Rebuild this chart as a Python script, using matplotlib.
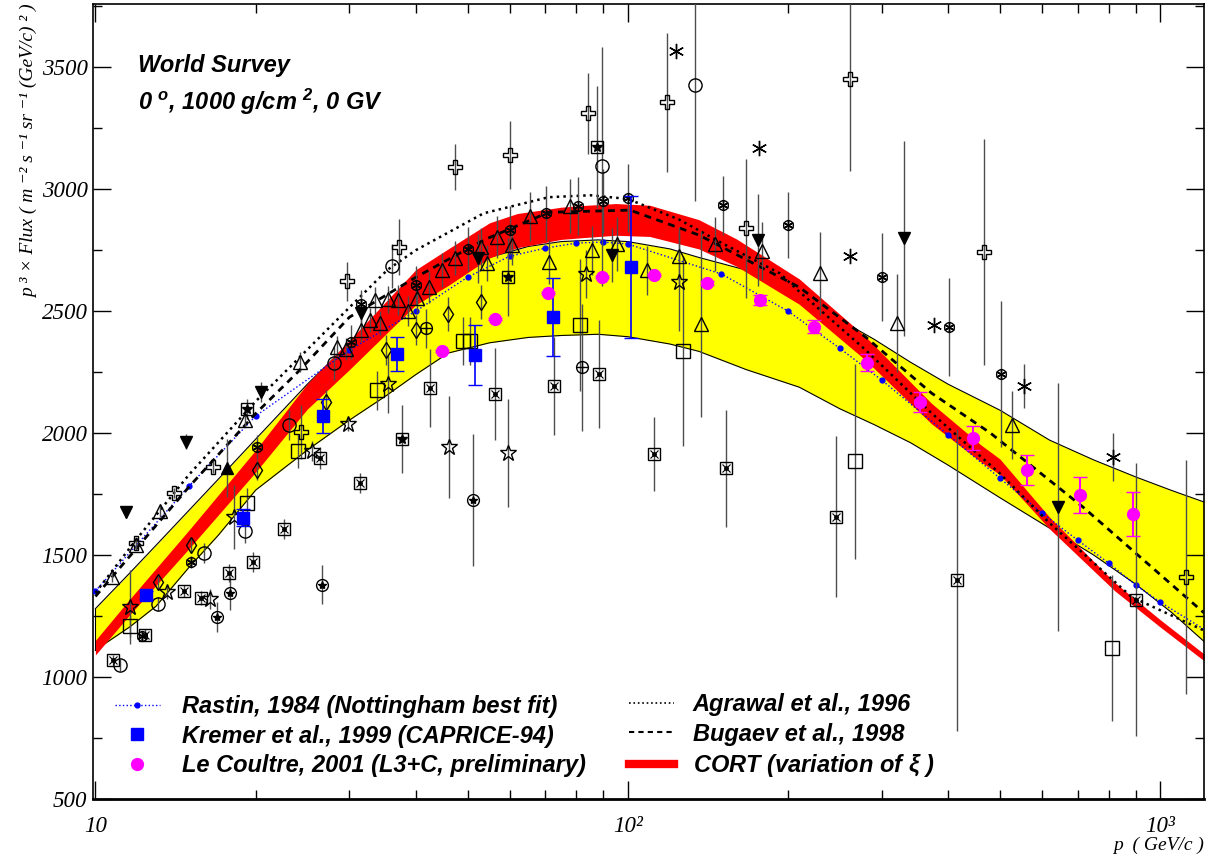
import matplotlib
matplotlib.use('Agg')
import matplotlib.pyplot as plt
from matplotlib.lines import Line2D
from matplotlib.ticker import MultipleLocator, LogLocator, NullFormatter, FixedLocator, FixedFormatter

# fuentes
plt.rcParams['mathtext.fontset'] = 'custom'
plt.rcParams['mathtext.rm'] = 'Liberation Sans:bold:italic'
plt.rcParams['mathtext.it'] = 'Liberation Sans:bold:italic'
plt.rcParams['mathtext.bf'] = 'Liberation Sans:bold:italic'
plt.rcParams['mathtext.default'] = 'it'
SANS = ['Liberation Sans', 'DejaVu Sans']
SERIF = ['Liberation Serif', 'DejaVu Serif']

# ---- bandas ----
band_p = [10, 11.6, 13, 15, 17, 20, 25, 30, 35, 40, 46, 55, 65, 75, 88, 100, 120, 136,
          167, 210, 250, 290, 340, 400, 500, 620, 750, 900, 1050, 1210]
yellow_hi = [1280, 1426, 1540, 1684, 1810, 1975, 2200, 2370, 2490, 2580, 2650, 2720, 2765, 2785,
             2792, 2785, 2755, 2720, 2668, 2565, 2465, 2385, 2290, 2200, 2094, 1971, 1890, 1820,
             1765, 1717]
yellow_lo = [1110, 1205, 1290, 1450, 1580, 1766, 1930, 2053, 2150, 2240, 2328, 2370, 2392, 2400,
             2405, 2395, 2365, 2335, 2260, 2188, 2100, 2035, 1960, 1868, 1735, 1610, 1500, 1380,
             1265, 1145]

cort_p = [10, 11.6, 15, 20, 25, 30, 40, 46, 55, 62, 75, 81, 95, 110, 136, 160, 210, 280, 372,
          461, 500, 620, 822, 1000, 1210]
cort_mid = [1120, 1287, 1565, 1885, 2150, 2320, 2598, 2680, 2790, 2830, 2860, 2866, 2876, 2870,
            2815, 2740, 2580, 2346, 2080, 1916, 1862, 1631, 1370, 1220, 1080]
cort_half = [30, 32, 38, 45, 52, 60, 72, 75, 72, 70, 66, 66, 65, 64, 60, 56, 52, 48, 42, 35, 32,
             24, 17, 15, 14]

# ---- curvas ----
rastin_p = [10, 15, 20, 30, 40, 50, 60, 70, 80, 90, 100, 150, 200, 250, 300, 400, 500, 600, 700,
            800, 900, 1000, 1210]
rastin_f = [1352, 1783, 2070, 2340, 2500, 2639, 2725, 2758, 2779, 2783, 2775, 2652, 2500, 2348,
            2217, 1992, 1815, 1672, 1561, 1467, 1377, 1307, 1195]

agrawal_p = [10, 12, 15, 20, 24.2, 30, 35.4, 40, 53.6, 71, 85, 100, 125, 150, 193, 210, 280, 372,
             499, 620, 884, 1210]
agrawal_f = [1345, 1570, 1830, 2130, 2311, 2515, 2670, 2750, 2901, 2967, 2975, 2960, 2875, 2780,
             2655, 2580, 2340, 2082, 1836, 1631, 1328, 1190]

bugaev_p = [10, 15, 20, 24, 30, 40, 53.6, 71, 101, 136, 210, 280, 372, 480, 716, 1210]
bugaev_f = [1330, 1780, 2080, 2250, 2475, 2639, 2791, 2905, 2914, 2812, 2598, 2393, 2164, 2000,
            1697, 1262]

# ---- datos experimentales ----
kremer_p = [12.46, 18.95, 26.8, 36.8, 51.7, 72.4, 101.3]
kremer_f = [1336, 1652, 2070, 2324, 2320, 2475, 2680]
kremer_e = [15, 35, 70, 68, 123, 160, 290]

lec_p = [44.8, 56.3, 70.7, 89.4, 112, 141, 177, 224, 281, 354, 445, 563, 708, 889]
lec_f = [2336, 2467, 2574, 2639, 2647, 2615, 2547, 2436, 2289, 2127, 1979, 1848, 1746, 1668]
lec_e = [4, 4, 4, 4, 5, 8, 20, 27, 34, 41, 48, 61, 75, 92]

cross_p = [11.9, 14.05, 16.6, 24.3, 29.7, 37.2, 47.3, 60.2, 84.2, 118.4, 167, 261, 467, 1120]
cross_f = [1549, 1754, 1860, 2004, 2623, 2762, 3090, 3139, 3311, 3356, 2840, 3451, 2742, 1410]
cross_e = [20, 20, 25, 110, 80, 115, 95, 140, 165, 285, 285, 375, 465, 480]

tri_p = [10.76, 11.9, 13.2, 19.1, 24.2, 28.4, 29.5, 31.5, 32.8, 33.5, 34.2, 35.4, 37, 38.6, 40.2,
         42.4, 44.8, 47.3, 53.1, 54.5, 56.7, 60.7, 65.5, 71, 78, 85.6, 95.6, 108.5, 124.6, 137,
         146, 179, 230, 320, 527]
tri_f = [1410, 1541, 1680, 2053, 2291, 2352, 2344, 2422, 2463, 2545, 2451, 2549, 2545, 2500, 2553,
         2598, 2668, 2717, 2762, 2697, 2803, 2770, 2889, 2701, 2930, 2750, 2775, 2668, 2725, 2447,
         2775, 2746, 2656, 2451, 2033]
tri_e = [20, 20, 25, 30, 40, 45, 45, 50, 50, 55, 50, 55, 60, 60, 60, 65, 70, 70, 80, 75, 85, 80,
         100, 90, 110, 100, 110, 100, 120, 380, 110, 120, 170, 200, 140]

dtri_p = [11.4, 14.8, 20.5, 31.5, 52.4, 93.4, 176, 330, 642]
dtri_f = [1676, 1965, 2168, 2492, 2717, 2729, 2791, 2799, 1697]
dtri_e = [25, 30, 40, 50, 100, 110, 190, 400, 510]

utri_p = [17.7]
utri_f = [1856]
utri_e = [120]

cast_p = [12.25, 15.1, 20.1, 30.2, 31.5, 40, 50, 60, 70.3, 80.6, 90, 100, 151, 200, 300, 402, 502]
cast_f = [1168, 1471, 1943, 2373, 2528, 2606, 2754, 2832, 2901, 2930, 2951, 2963, 2934, 2852,
          2639, 2434, 2242]
cast_e = [20, 25, 50, 70, 60, 80, 90, 100, 110, 120, 130, 140, 120, 135, 180, 200, 300]

ast_p = [123, 176.7, 262, 376, 556, 815]
ast_f = [3565, 3168, 2725, 2442, 2192, 1901]
ast_e = [0, 0, 0, 0, 90, 98]

box_p = [10.8, 12.4, 14.7, 15.8, 17.8, 19.8, 22.6, 26.4, 31.4, 42.5, 56.3, 72.6, 88.4, 112, 153,
         246, 415, 900]
box_f = [1070, 1172, 1352, 1324, 1426, 1471, 1606, 1897, 1795, 2184, 2160, 2192, 2242, 1914, 1856,
         1656, 1397, 1316]
box_e = [20, 25, 25, 30, 35, 40, 40, 45, 40, 160, 190, 200, 220, 150, 240, 330, 620, 560]

sqst_p = [19.3, 37.7, 59.7, 87.5]
sqst_f = [2098, 1975, 2639, 3172]
sqst_e = [40, 140, 160, 250]

sq_p = [11.6, 19.3, 24, 33.8, 49.1, 50.5, 81.3, 127, 267, 812]
sq_f = [1209, 1713, 1926, 2176, 2377, 2377, 2442, 2336, 1885, 1119]
sq_e = [45, 60, 70, 80, 100, 100, 270, 390, 400, 300]

circ_p = [11.1, 13.1, 16.0, 19.1, 23.1, 28.1, 36.1, 89.4, 134]
circ_f = [1049, 1299, 1508, 1598, 2033, 2287, 2684, 3094, 3426]
circ_e = [25, 30, 40, 50, 60, 70, 90, 490, 475]

cplus_p = [41.7, 82.1]
cplus_f = [2430, 2270]
cplus_e = [80, 260]

star_p = [11.6, 13.6, 16.4, 18.2, 25.5, 29.8, 35.5, 46.1, 59.5, 83.3, 125]
star_f = [1287, 1348, 1320, 1656, 1926, 2037, 2201, 1943, 1918, 2652, 2619]
star_e = [150, 30, 40, 130, 40, 30, 120, 210, 220, 100, 200]

cstar_p = [16.9, 17.9, 26.7, 51.2]
cstar_f = [1246, 1344, 1377, 1725]
cstar_e = [60, 70, 80, 270]

diam_p = [13.1, 15.1, 20.1, 27.1, 35.1, 40, 46, 53]
diam_f = [1389, 1541, 1848, 2127, 2340, 2422, 2488, 2537]
diam_e = [30, 30, 40, 50, 60, 60, 70, 70]

fig = plt.figure(figsize=(12.09, 8.59), dpi=100)
ax = fig.add_axes([0.077, 0.070, 0.919, 0.925])

# banda amarilla
ax.fill_between(band_p, yellow_lo, yellow_hi, color='#ffff00', lw=0, zorder=1)
ax.plot(band_p, yellow_hi, color='black', lw=0.8, zorder=1.1)
ax.plot(band_p, yellow_lo, color='black', lw=0.8, zorder=1.1)
ax.plot([band_p[0], band_p[0]], [yellow_lo[0], yellow_hi[0]], color='black', lw=0.8, zorder=1.1)

# banda CORT
lo = [m - h for m, h in zip(cort_mid, cort_half)]
hi = [m + h for m, h in zip(cort_mid, cort_half)]
ax.fill_between(cort_p, lo, hi, color='#ff0000', lw=0, zorder=2)

ax.plot(rastin_p, rastin_f, color='#0000ff', ls=':', lw=1, marker='o', ms=3.5,
        markevery=list(range(len(rastin_p) - 1)), zorder=3)
ax.plot(agrawal_p, agrawal_f, color='black', ls=':', lw=1.8, zorder=3)
ax.plot(bugaev_p, bugaev_f, color='black', lw=2, dashes=(2.5, 2), zorder=3)


def puntos(p, f, e, marker, ms=8, fc='none', z=4):
    ax.errorbar(p, f, yerr=e, fmt='none', ecolor='0.3', elinewidth=1, capsize=0, zorder=z)
    ax.plot(p, f, ls='none', marker=marker, ms=ms, mfc=fc, mec='black', mew=1, zorder=z + 0.1)


puntos(cross_p, cross_f, cross_e, 'P', ms=9.5)
puntos(tri_p, tri_f, tri_e, '^', ms=10)
puntos(dtri_p, dtri_f, dtri_e, 'v', ms=8.5, fc='black')
puntos(utri_p, utri_f, utri_e, '^', ms=8.5, fc='black')
puntos(cast_p, cast_f, cast_e, 'o', ms=7)
ax.plot(cast_p, cast_f, ls='none', marker=(6, 2, 0), ms=8, mec='black', mew=1, zorder=4.2)
puntos(ast_p, ast_f, ast_e, (6, 2, 0), ms=11)
puntos(box_p, box_f, box_e, 's', ms=8.5)
ax.plot(box_p, box_f, ls='none', marker='x', ms=6, mec='black', mew=0.8, zorder=4.2)
ax.plot(box_p, box_f, ls='none', marker='o', ms=2.5, mfc='black', mec='black', zorder=4.3)
puntos(sqst_p, sqst_f, sqst_e, 's', ms=8.5)
ax.plot(sqst_p, sqst_f, ls='none', marker='*', ms=7, mfc='black', mec='black', zorder=4.2)
puntos(sq_p, sq_f, sq_e, 's', ms=9.5)
puntos(circ_p, circ_f, circ_e, 'o', ms=9.5)
puntos(cplus_p, cplus_f, cplus_e, 'o', ms=8.5)
ax.plot(cplus_p, cplus_f, ls='none', marker='+', ms=8.5, mec='black', mew=1, zorder=4.2)
puntos(star_p, star_f, star_e, '*', ms=12)
puntos(cstar_p, cstar_f, cstar_e, 'o', ms=8.5)
ax.plot(cstar_p, cstar_f, ls='none', marker='*', ms=6, mfc='black', mec='black', zorder=4.2)
puntos(diam_p, diam_f, diam_e, 'd', ms=8.5)

# Kremer y Le Coultre
ax.errorbar(kremer_p, kremer_f, yerr=kremer_e, fmt='s', ms=8, color='#0000ff', ecolor='#0000ff',
            elinewidth=1.2, capsize=5, zorder=5)
ax.errorbar(lec_p, lec_f, yerr=lec_e, fmt='o', ms=8.5, color='#ff00ff', ecolor='#ff00ff',
            elinewidth=1.5, capsize=5, zorder=5)

# ejes
ax.set_xscale('log')
ax.set_xlim(9.9, 1210)
ax.set_ylim(500, 3758)
ax.yaxis.set_major_locator(MultipleLocator(500))
ax.yaxis.set_minor_locator(MultipleLocator(250))
ax.xaxis.set_major_locator(FixedLocator([10, 100, 1000]))
ax.xaxis.set_major_formatter(FixedFormatter(['10', '10²', '10³']))
ax.xaxis.set_minor_locator(LogLocator(base=10, subs=range(2, 10), numticks=20))
ax.xaxis.set_minor_formatter(NullFormatter())
ax.tick_params(which='both', direction='in', top=True, right=True, color='black', width=1)
ax.tick_params(which='major', length=13)
ax.tick_params(which='minor', length=6.5)
ax.tick_params(axis='y', pad=4)
ax.tick_params(axis='x', pad=12)
for lab in ax.get_xticklabels() + ax.get_yticklabels():
    lab.set_family(SERIF)
    lab.set_style('italic')
    lab.set_fontsize(16.5)
for s in ax.spines.values():
    s.set_linewidth(1.2)
ax.spines['bottom'].set_linewidth(2)

ax.text(-0.057, 1.0, 'p ³ × Flux ( m ⁻² s ⁻¹ sr ⁻¹ (GeV/c) ² )', transform=ax.transAxes,
        rotation=90, ha='center', va='top', family=SERIF, style='italic', fontsize=14)
ax.text(1.0, -0.058, 'p  ( GeV/c )', transform=ax.transAxes, ha='right', va='center',
        family=SERIF, style='italic', fontsize=14)

ax.text(0.0405, 0.923, 'World Survey', transform=ax.transAxes, ha='left', va='center',
        family=SANS, weight='bold', style='italic', fontsize=17)
ax.text(0.0405, 0.877, r'0 $^{o}$, 1000 g/cm $^{2}$, 0 GV', transform=ax.transAxes, ha='left',
        va='center', family=SANS, weight='bold', style='italic', fontsize=17)

# leyendas
leg_font = {'family': SANS, 'weight': 'bold', 'style': 'italic', 'size': 17}
h1 = [Line2D([], [], color='#0000ff', ls=':', lw=1, marker='o', ms=3.5),
      Line2D([], [], color='#0000ff', ls='none', marker='s', ms=8),
      Line2D([], [], color='#ff00ff', ls='none', marker='o', ms=8.5)]
l1 = ['Rastin, 1984 (Nottingham best fit)', 'Kremer et al., 1999 (CAPRICE-94)',
      'Le Coultre, 2001 (L3+C, preliminary)']
h2 = [Line2D([], [], color='black', ls=':', lw=1.2),
      Line2D([], [], color='black', lw=1.5, dashes=(2.5, 2)),
      Line2D([], [], color='#ff0000', lw=6)]
l2 = ['Agrawal et al., 1996', 'Bugaev et al., 1998', r'CORT (variation of $\xi$ )']
leg1 = ax.legend(h1, l1, loc='center left', bbox_to_anchor=(0.0195, 0.079), frameon=False,
                 prop=leg_font, handlelength=1.9, handletextpad=0.95, labelspacing=0.27,
                 borderpad=0, borderaxespad=0, numpoints=1)
ax.add_artist(leg1)
ax.legend(h2, l2, loc='center left', bbox_to_anchor=(0.4825, 0.079), frameon=False,
          prop=leg_font, handlelength=1.9, handletextpad=0.8, labelspacing=0.27,
          borderpad=0, borderaxespad=0, numpoints=1)

fig.savefig('out.png', dpi=100)
